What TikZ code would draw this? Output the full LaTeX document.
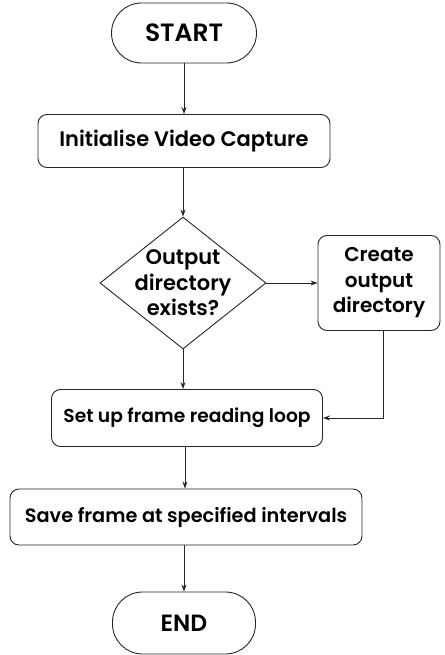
\documentclass[tikz,border=0pt]{standalone}
\usepackage{fontspec}
\setmainfont{Poppins}[BoldFont={Poppins SemiBold}]
\usetikzlibrary{shapes.geometric,arrows.meta}
\newcommand{\fs}[1]{\fontsize{#1}{25.5}\selectfont\bfseries}
\begin{document}
\begin{tikzpicture}[x=1pt,y=-1pt,
  base/.style={draw=black!85,line width=0.9pt,align=center,inner sep=0pt},
  proc/.style={base,rectangle,rounded corners=9pt},
  dec/.style={base,diamond,minimum width=166pt,minimum height=132pt},
  lbl/.style={align=center,inner sep=0pt},
  arr/.style={-{Stealth[length=7pt,width=5pt]},line width=0.9pt,black!85}]
\useasboundingbox (0,0) rectangle (444,655);
\node[base,rounded corners=30pt,minimum width=145pt,minimum height=60pt,font=\fs{25}] (start) at (184,33) {START};
\node[proc,minimum width=292pt,minimum height=53pt,font=\fs{21}] (init) at (184,141) {Initialise Video Capture};
\node[dec] (dec) at (183,283) {};
\node[lbl,font=\fs{21}] (declbl) at (dec.center) {Output\\directory\\exists?};
\node[proc,minimum width=122pt,minimum height=95pt,font=\fs{20}] (create) at (379,283) {Create\\output\\directory};
\node[proc,minimum width=271pt,minimum height=57pt,font=\fs{18.7}] (setup) at (187,418) {Set up frame reading loop};
\node[proc,minimum width=352pt,minimum height=56pt,font=\fs{19.3}] (save) at (186,517) {Save frame at specified intervals};
\node[base,rounded corners=30pt,minimum width=143pt,minimum height=62pt,font=\fs{23.5}] (end) at (184,623) {END};
\draw[arr] (start) -- (init);
\draw[arr] (init.south -| dec.north) -- (dec);
\draw[arr] (dec) -- (create);
\draw[arr] (dec.south) -- (dec.south |- setup.north);
\draw[arr] (create.south -| 383,0) |- (setup.east);
\draw[arr] (setup.south -| 185,0) -- (185,0 |- save.north);
\draw[arr] (save.south -| 184,0) -- (end);
\end{tikzpicture}
\end{document}
